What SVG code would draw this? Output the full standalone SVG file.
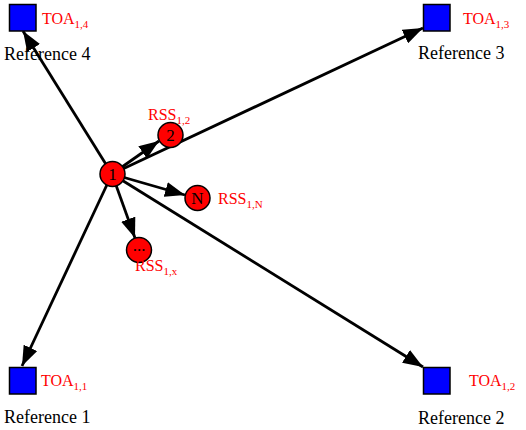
<svg xmlns="http://www.w3.org/2000/svg" width="526" height="430" viewBox="0 0 526 430">
<style>
.ref{fill:#0000ff;stroke:#000;stroke-width:1.5}
.node{fill:#ff0000;stroke:#000;stroke-width:1.5}
.lbl{font-family:"Liberation Serif",serif;font-size:16px;fill:#ff0000}
.sub{font-size:11px}
.name{font-family:"Liberation Serif",serif;font-size:18px;fill:#000}
.num{font-family:"Liberation Serif",serif;font-size:17px;fill:#000;text-anchor:middle}
.edge{stroke:#000;stroke-width:2.8;fill:none;marker-end:url(#arr)}
</style>
<defs>
<marker id="arr" markerUnits="userSpaceOnUse" markerWidth="20" markerHeight="15" refX="20" refY="7.5" orient="auto">
<path d="M0,0 L20,7.5 L0,15 z" fill="#000"/>
</marker>
</defs>
<rect width="526" height="430" fill="#fff"/>
<g id="connectors">
<line class="edge" x1="112" y1="174" x2="23" y2="31"/>
<line class="edge" x1="112" y1="174" x2="423" y2="28"/>
<line class="edge" x1="112" y1="174" x2="22" y2="366"/>
<line class="edge" x1="112" y1="174" x2="423" y2="367"/>
<line class="edge" x1="112" y1="174" x2="159" y2="141"/>
<line class="edge" x1="112" y1="174" x2="185" y2="195"/>
<line class="edge" x1="112" y1="174" x2="135" y2="238"/>
</g>
<g id="ref4">
<rect class="ref" x="9.5" y="4.5" width="26.5" height="26.5"/>
<text class="lbl" x="42" y="24">TOA<tspan class="sub" dy="4">1,4</tspan></text>
<text class="name" x="4" y="60">Reference 4</text>
</g>
<g id="ref3">
<rect class="ref" x="423.5" y="4.5" width="26.5" height="26.5"/>
<text class="lbl" x="463" y="24">TOA<tspan class="sub" dy="4">1,3</tspan></text>
<text class="name" x="418" y="59">Reference 3</text>
</g>
<g id="ref1">
<rect class="ref" x="9.5" y="367.5" width="26.5" height="26.5"/>
<text class="lbl" x="41" y="386">TOA<tspan class="sub" dy="4">1,1</tspan></text>
<text class="name" x="4" y="423">Reference 1</text>
</g>
<g id="ref2">
<rect class="ref" x="423.5" y="367.5" width="26.5" height="26.5"/>
<text class="lbl" x="469" y="386">TOA<tspan class="sub" dy="4">1,2</tspan></text>
<text class="name" x="418" y="424">Reference 2</text>
</g>
<g id="node1">
<circle class="node" cx="112.5" cy="174" r="12.5"/>
<text class="num" x="112.5" y="180">1</text>
</g>
<g id="node2">
<circle class="node" cx="170.5" cy="135" r="12.5"/>
<text class="num" x="170.5" y="141">2</text>
<text class="lbl" x="148" y="120">RSS<tspan class="sub" dy="4">1,2</tspan></text>
</g>
<g id="nodeN">
<circle class="node" cx="197.5" cy="198" r="12.5"/>
<text class="num" x="197.5" y="204">N</text>
<text class="lbl" x="218" y="204">RSS<tspan class="sub" dy="4">1,N</tspan></text>
</g>
<g id="nodeX">
<circle class="node" cx="139" cy="250" r="12.5"/>
<text class="num" x="139" y="251">...</text>
<text class="lbl" x="135" y="271">RSS<tspan class="sub" dy="4">1,x</tspan></text>
</g>
</svg>
